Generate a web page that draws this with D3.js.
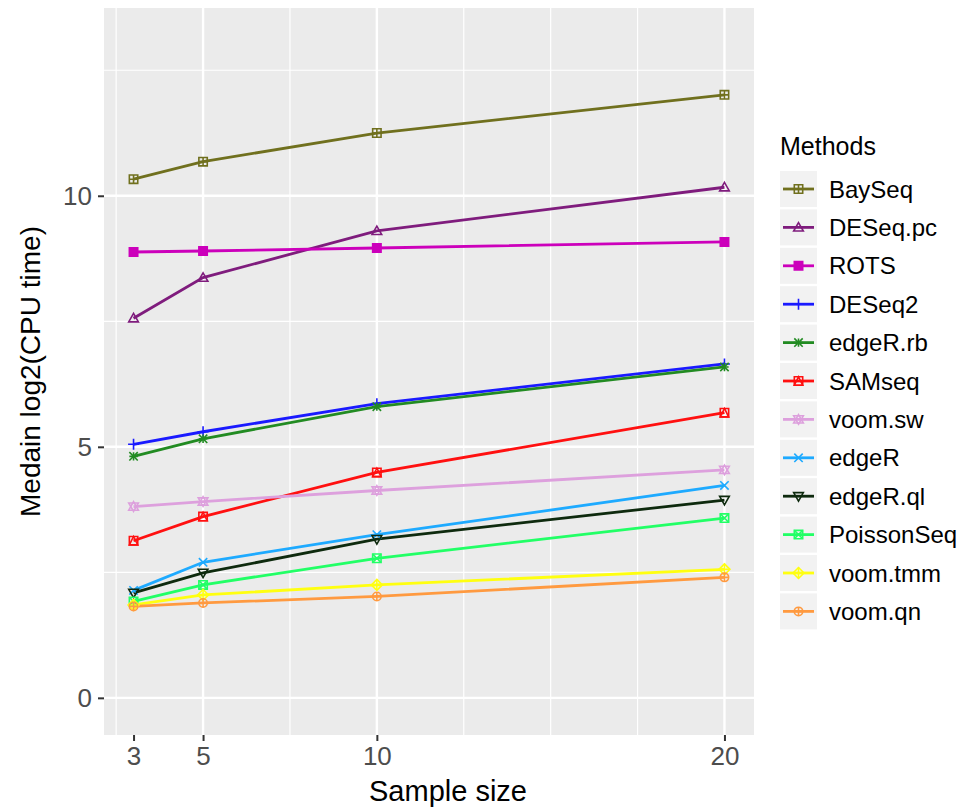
<!DOCTYPE html>
<html>
<head>
<meta charset="utf-8">
<script src="https://cdn.jsdelivr.net/npm/d3@7"></script>
<style>
  body { margin: 0; background: #fff; }
  text { font-family: "Liberation Sans", Arial, sans-serif; }
</style>
</head>
<body>
<svg id="chart" width="977" height="807"></svg>
<script>
// data
var sampleSizes = [3, 5, 10, 20];
var xTicks = [3, 5, 10, 20];
var yTicks = [0, 5, 10];
var methods = ['BaySeq', 'DESeq.pc', 'ROTS', 'DESeq2', 'edgeR.rb', 'SAMseq',
               'voom.sw', 'edgeR', 'edgeR.ql', 'PoissonSeq', 'voom.tmm', 'voom.qn'];
var colors = ['#70701E', '#7F1C7D', '#CC00BB', '#1A1AFF', '#228B22', '#FF1010',
              '#DDA0DD', '#1EAAFF', '#0E2A0E', '#22FF66', '#FFFF10', '#FF9A40'];
var shapes = ['squarePlus', 'triangle', 'squareFilled', 'plus', 'asterisk', 'squareTriangle',
              'star', 'cross', 'triangleDown', 'squareCross', 'diamondPlus', 'circlePlus'];

var baySeq     = [10.33, 10.68, 11.25, 12.01];
var deseqPc    = [7.56, 8.37, 9.30, 10.17];
var rots       = [8.88, 8.90, 8.96, 9.08];
var deseq2     = [5.05, 5.30, 5.86, 6.65];
var edgeRrb    = [4.81, 5.16, 5.80, 6.59];
var samseq     = [3.13, 3.61, 4.49, 5.68];
var voomSw     = [3.81, 3.91, 4.13, 4.54];
var edgeR      = [2.14, 2.70, 3.25, 4.23];
var edgeRql    = [2.09, 2.49, 3.16, 3.94];
var poissonSeq = [1.92, 2.25, 2.78, 3.58];
var voomTmm    = [1.85, 2.05, 2.25, 2.56];
var voomQn     = [1.82, 1.89, 2.02, 2.40];

var seriesValues = [baySeq, deseqPc, rots, deseq2, edgeRrb, samseq,
                    voomSw, edgeR, edgeRql, poissonSeq, voomTmm, voomQn];

var series = methods.map(function(m, i) {
  return {
    key: m, color: colors[i], shape: shapes[i],
    values: sampleSizes.map(function(n, j) { return {x: n, y: seriesValues[i][j]}; })
  };
});

var svg = d3.select('#chart');
var panel = {left: 104, right: 754, top: 8, bottom: 735};

var x = d3.scaleLinear().domain([2.15, 20.85]).range([panel.left, panel.right]);
var y = d3.scaleLinear().domain([-0.74, 13.74]).range([panel.bottom, panel.top]);

// panel background
svg.append('rect')
  .attr('x', panel.left).attr('y', panel.top)
  .attr('width', panel.right - panel.left).attr('height', panel.bottom - panel.top)
  .attr('fill', '#EBEBEB');

// grid
var grid = svg.append('g');
[2.5, 7.5, 12.5, 15, 17.5].forEach(function(v) {
  grid.append('line').attr('x1', x(v)).attr('x2', x(v))
    .attr('y1', panel.top).attr('y2', panel.bottom)
    .attr('stroke', '#fff').attr('stroke-width', 1.2);
});
[2.5, 7.5, 12.5].forEach(function(v) {
  grid.append('line').attr('y1', y(v)).attr('y2', y(v))
    .attr('x1', panel.left).attr('x2', panel.right)
    .attr('stroke', '#fff').attr('stroke-width', 1.2);
});
[5, 10, 20].forEach(function(v) {
  grid.append('line').attr('x1', x(v)).attr('x2', x(v))
    .attr('y1', panel.top).attr('y2', panel.bottom)
    .attr('stroke', '#fff').attr('stroke-width', 2.4);
});
yTicks.forEach(function(v) {
  grid.append('line').attr('y1', y(v)).attr('y2', y(v))
    .attr('x1', panel.left).attr('x2', panel.right)
    .attr('stroke', '#fff').attr('stroke-width', 2.4);
});

// axes
var xAxis = svg.append('g')
  .attr('transform', 'translate(0,' + panel.bottom + ')')
  .call(d3.axisBottom(x).tickValues(xTicks).tickSize(6).tickPadding(6).tickFormat(d3.format('d')));
var yAxis = svg.append('g')
  .attr('transform', 'translate(' + panel.left + ',0)')
  .call(d3.axisLeft(y).tickValues(yTicks).tickSize(6).tickPadding(6).tickFormat(d3.format('d')));
[xAxis, yAxis].forEach(function(a) {
  a.select('.domain').remove();
  a.selectAll('.tick line').attr('stroke', '#333').attr('stroke-width', 2);
  a.selectAll('.tick text').attr('fill', '#4D4D4D')
    .style('font-family', '"Liberation Sans", Arial, sans-serif')
    .style('font-size', '26px');
});

svg.append('text')
  .attr('x', 448).attr('y', 801)
  .attr('text-anchor', 'middle').attr('fill', '#000')
  .style('font-size', '29px').text('Sample size');
svg.append('text')
  .attr('transform', 'translate(40,' + ((panel.top + panel.bottom) / 2) + ') rotate(-90)')
  .attr('text-anchor', 'middle').attr('fill', '#000')
  .style('font-size', '28px').text('Medain log2(CPU time)');

// marker drawing, roughly like R's pch shapes
function drawShape(g, shape, color, r) {
  var sw = 1.6;
  function path(d, fill) {
    g.append('path').attr('d', d).attr('fill', fill || 'none')
      .attr('stroke', color).attr('stroke-width', sw);
  }
  var sq = 'M' + (-r) + ',' + (-r) + 'H' + r + 'V' + r + 'H' + (-r) + 'Z';
  var plusD = 'M' + (-r) + ',0H' + r + 'M0,' + (-r) + 'V' + r;
  var crossD = 'M' + (-r) + ',' + (-r) + 'L' + r + ',' + r + 'M' + r + ',' + (-r) + 'L' + (-r) + ',' + r;
  var h = r * 1.15;
  var triUp = 'M0,' + (-h) + 'L' + h + ',' + (h * 0.75) + 'L' + (-h) + ',' + (h * 0.75) + 'Z';
  var triDown = 'M0,' + h + 'L' + h + ',' + (-h * 0.75) + 'L' + (-h) + ',' + (-h * 0.75) + 'Z';
  switch (shape) {
    case 'squarePlus': path(sq); path(plusD); break;
    case 'triangle': path(triUp); break;
    case 'squareFilled': path(sq, color); break;
    case 'plus': var p = r * 1.3; path('M' + (-p) + ',0H' + p + 'M0,' + (-p) + 'V' + p); break;
    case 'asterisk': path(plusD); path(crossD); break;
    case 'squareTriangle': path(sq); path('M0,' + (-r) + 'L' + r + ',' + r + 'L' + (-r) + ',' + r + 'Z'); break;
    case 'star': path(triUp); path(triDown); break;
    case 'cross': path(crossD); break;
    case 'triangleDown': path(triDown); break;
    case 'squareCross': path(sq); path(crossD); break;
    case 'diamondPlus':
      var d = r * 1.3;
      path('M0,' + (-d) + 'L' + d + ',0L0,' + d + 'L' + (-d) + ',0Z');
      path('M' + (-d) + ',0H' + d + 'M0,' + (-d) + 'V' + d); break;
    case 'circlePlus':
      g.append('circle').attr('r', r).attr('fill', 'none').attr('stroke', color).attr('stroke-width', sw);
      path(plusD); break;
  }
}

var line = d3.line().x(function(d) { return x(d.x); }).y(function(d) { return y(d.y); });

var plot = svg.append('g');
series.forEach(function(s) {
  plot.append('path').datum(s.values)
    .attr('d', line).attr('fill', 'none')
    .attr('stroke', s.color).attr('stroke-width', 2.8);
});
series.forEach(function(s) {
  s.values.forEach(function(d) {
    var g = plot.append('g').attr('transform', 'translate(' + x(d.x) + ',' + y(d.y) + ')');
    drawShape(g, s.shape, s.color, 4.2);
  });
});

// legend
var legend = svg.append('g').attr('transform', 'translate(780,0)');
legend.append('text').attr('x', 0).attr('y', 155)
  .attr('fill', '#000').style('font-size', '25px').text('Methods');
series.forEach(function(s, i) {
  var cy = 189 + i * 38.4;
  var row = legend.append('g');
  row.append('rect').attr('x', 0).attr('y', cy - 18).attr('width', 37).attr('height', 36)
    .attr('fill', '#F2F2F2');
  row.append('line').attr('x1', 3).attr('x2', 34).attr('y1', cy).attr('y2', cy)
    .attr('stroke', s.color).attr('stroke-width', 2.8);
  drawShape(row.append('g').attr('transform', 'translate(18.5,' + cy + ')'), s.shape, s.color, 4.2);
  row.append('text').attr('x', 49).attr('y', cy + 8.5)
    .attr('fill', '#000').style('font-size', '24px').text(s.key);
});
</script>
</body>
</html>
